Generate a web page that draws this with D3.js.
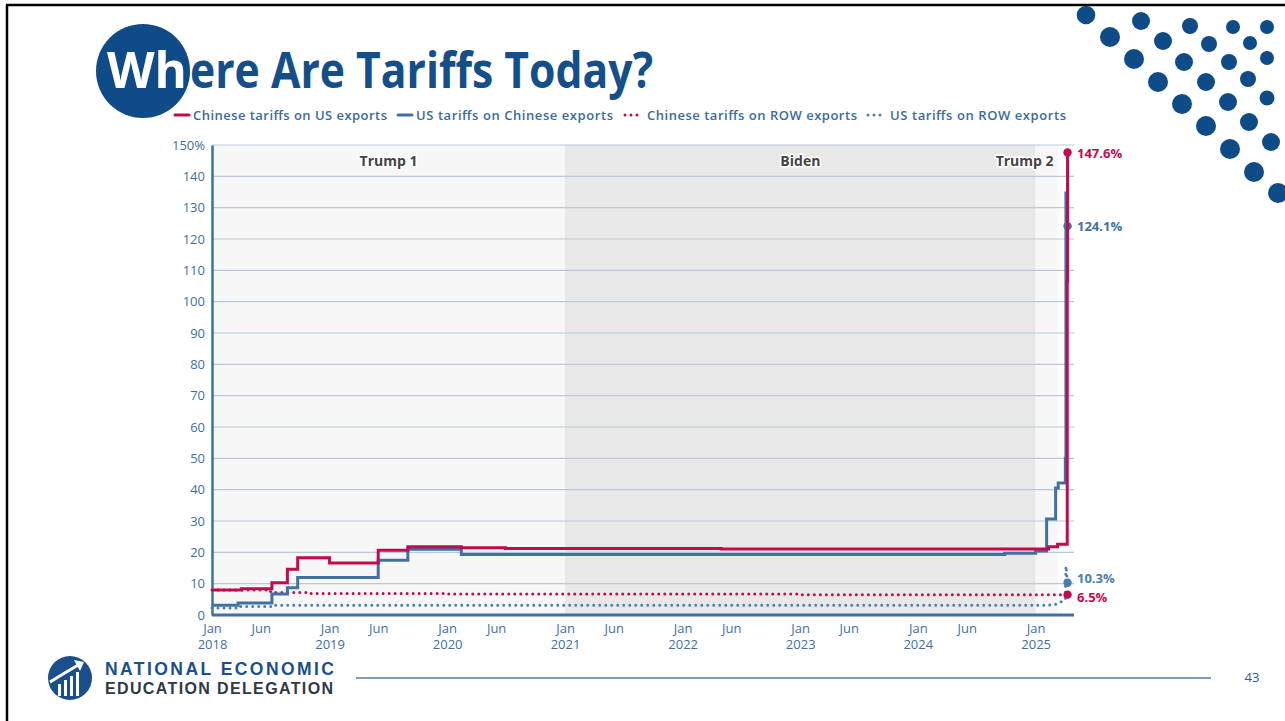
<!DOCTYPE html>
<html>
<head>
<meta charset="utf-8">
<script src="https://cdn.jsdelivr.net/npm/d3@7"></script>
<style>
  body { margin: 0; background: #fff; }
  svg { display: block; font-family: "Open Sans", sans-serif; }
</style>
</head>
<body>
<div id="chart"></div>
<script>
// series data (dates + values in %)
var chinaOnUSDates = ["2018-01-01", "2018-04-02", "2018-07-06", "2018-08-23", "2018-09-24", "2019-01-01", "2019-06-01", "2019-09-01", "2020-02-14", "2020-06-30", "2022-05-01", "2025-02-10", "2025-03-10", "2025-04-09", "2025-04-10"];
var chinaOnUSValues = [8.0, 8.4, 10.3, 14.6, 18.3, 16.6, 20.7, 21.8, 21.5, 21.2, 21.1, 21.8, 22.6, 106.6, 147.6];

var usOnChinaDates = ["2018-01-01", "2018-03-23", "2018-07-06", "2018-08-23", "2018-09-24", "2019-06-01", "2019-09-01", "2020-02-14", "2024-09-27", "2025-01-01", "2025-02-04", "2025-03-04", "2025-03-12", "2025-04-03", "2025-04-05", "2025-04-10"];
var usOnChinaValues = [3.1, 3.8, 6.7, 8.7, 12.0, 17.5, 21.0, 19.3, 19.7, 20.4, 30.6, 40.5, 42.1, 50.0, 134.7, 124.1];

var chinaOnROWDates = ["2018-01-01", "2018-07-01", "2018-07-02", "2018-11-01", "2018-11-02", "2020-01-01", "2020-01-02", "2023-01-01", "2023-01-02", "2025-04-10"];
var chinaOnROWValues = [8.0, 8.0, 7.2, 7.2, 6.9, 6.9, 6.7, 6.7, 6.5, 6.5];

var usOnROWDates = ["2018-01-01", "2018-03-23", "2018-03-24", "2018-07-05", "2018-07-06", "2025-02-01", "2025-03-01", "2025-03-20", "2025-04-03", "2025-04-05", "2025-04-10"];
var usOnROWValues = [2.2, 2.2, 2.7, 2.7, 3.1, 3.1, 3.3, 4.2, 5.0, 15.6, 10.3];

var yTicks = [0, 10, 20, 30, 40, 50, 60, 70, 80, 90, 100, 110, 120, 130, 140, 150];
var xTickDates = ["2018-01-01", "2018-06-01", "2019-01-01", "2019-06-01", "2020-01-01", "2020-06-01", "2021-01-01", "2021-06-01", "2022-01-01", "2022-06-01", "2023-01-01", "2023-06-01", "2024-01-01", "2024-06-01", "2025-01-01"];

var periods = [
  { name: "Trump 1", start: "2018-01-01", end: "2021-01-01", fill: "#f7f7f7", anchor: "middle" },
  { name: "Biden", start: "2021-01-01", end: "2025-01-01", fill: "#e8e8e8", anchor: "middle" },
  { name: "Trump 2", start: "2025-01-01", end: "2025-03-10", fill: "#f7f7f7", anchor: "end" }
];

var RED = "#c40a4f", BLUE = "#3f72a3", BLUE_DOT = "#4a7eb0", AXIS = "#3f70a0";

var parse = d3.timeParse("%Y-%m-%d");
function zipSeries(dates, values) {
  return dates.map(function (d, i) { return { date: parse(d), value: values[i] }; });
}

var width = 1285, height = 721;
var svg = d3.select("#chart").append("svg")
  .attr("width", width)
  .attr("height", height);

// slide frame
svg.append("line").attr("x1", 6).attr("x2", 1285).attr("y1", 5).attr("y2", 5)
  .attr("stroke", "#000").attr("stroke-width", 2.5);
svg.append("line").attr("x1", 7).attr("x2", 7).attr("y1", 5).attr("y2", 721)
  .attr("stroke", "#000").attr("stroke-width", 2.5);

// decorative dots top right
var deco = [[1086,15,9.3],[1141,21,9],[1190,26,8],[1233,27,7],[1267,27,7],[1110,37,10],[1163,41,9],[1209,44,8],[1250,43,7],
  [1134,59,10],[1184,62,9],[1229,62,8],[1267,58,7],[1158,82,10],[1206,82,9],[1248,79,8],[1182,104,10],[1228,102,9],[1267,98,7.5],
  [1206,126,10],[1249,122,9],[1230,149,10],[1271,142,9],[1254,172,10],[1278,193,10]];
svg.selectAll(".deco").data(deco).enter().append("circle")
  .attr("cx", function (d) { return d[0]; }).attr("cy", function (d) { return d[1]; }).attr("r", function (d) { return d[2]; })
  .attr("fill", "#0f4c87");

// title
svg.append("circle").attr("cx", 143).attr("cy", 71).attr("r", 47).attr("fill", "#0f4c87");
svg.append("text").attr("x", 107).attr("y", 88)
  .attr("font-size", 50).attr("font-weight", 700).attr("fill", "#fff")
  .attr("textLength", 80).attr("lengthAdjust", "spacingAndGlyphs")
  .text("Wh");
svg.append("text").attr("x", 190).attr("y", 88)
  .attr("font-size", 50).attr("font-weight", 700).attr("fill", "#154f8a")
  .attr("textLength", 463).attr("lengthAdjust", "spacingAndGlyphs")
  .text("ere Are Tariffs Today?");

// legend
var legend = [
  { label: "Chinese tariffs on US exports", color: RED, dotted: false, x: 175, tx: 193, tw: 194 },
  { label: "US tariffs on Chinese exports", color: BLUE, dotted: false, x: 398, tx: 416, tw: 197 },
  { label: "Chinese tariffs on ROW exports", color: RED, dotted: true, x: 625, tx: 647, tw: 210 },
  { label: "US tariffs on ROW exports", color: BLUE_DOT, dotted: true, x: 868, tx: 890, tw: 176 }
];
var lg = svg.selectAll(".lg").data(legend).enter().append("g");
lg.append("line")
  .attr("x1", function (d) { return d.x; })
  .attr("x2", function (d) { return d.dotted ? d.x + 13 : d.x + 14; })
  .attr("y1", 115).attr("y2", 115)
  .attr("stroke", function (d) { return d.color; })
  .attr("stroke-width", 3)
  .attr("stroke-linecap", "round")
  .attr("stroke-dasharray", function (d) { return d.dotted ? "0 6" : null; });
lg.append("text")
  .attr("x", function (d) { return d.tx; }).attr("y", 119.5)
  .attr("font-size", 13).attr("font-weight", 600).attr("fill", "#3a6b9b")
  .attr("textLength", function (d) { return d.tw; })
  .text(function (d) { return d.label; });

// scales
var x = d3.scaleTime().domain([parse("2018-01-01"), parse("2025-04-30")]).range([212, 1074]);
var y = d3.scaleLinear().domain([0, 150]).range([615, 145]);

// period bands
svg.selectAll(".band").data(periods).enter().append("rect")
  .attr("x", function (d) { return x(parse(d.start)); })
  .attr("width", function (d) { return x(parse(d.end)) - x(parse(d.start)); })
  .attr("y", y(150)).attr("height", y(0) - y(150))
  .attr("fill", function (d) { return d.fill; });

// grid
svg.selectAll(".grid").data(yTicks.slice(1)).enter().append("line")
  .attr("x1", 212).attr("x2", 1074)
  .attr("y1", function (d) { return y(d); }).attr("y2", function (d) { return y(d); })
  .attr("stroke", "#b7c8da").attr("stroke-width", 1.2);

// period labels
svg.selectAll(".plabel").data(periods).enter().append("text")
  .attr("x", function (d) {
    return d.anchor === "end" ? x(parse(d.end)) - 4 : (x(parse(d.start)) + x(parse(d.end))) / 2;
  })
  .attr("y", 166)
  .attr("text-anchor", function (d) { return d.anchor; })
  .attr("font-size", 14).attr("font-weight", 700)
  .attr("fill", "#444").attr("stroke", "#fff").attr("stroke-width", 3)
  .attr("paint-order", "stroke")
  .text(function (d) { return d.name; });

// y axis
var yAxis = svg.append("g").attr("transform", "translate(212,0)")
  .call(d3.axisLeft(y).tickValues(yTicks).tickSize(0).tickPadding(7)
    .tickFormat(function (d) { return d === 150 ? "150%" : d; }));
yAxis.select(".domain").attr("stroke", AXIS).attr("stroke-width", 2.5);
yAxis.selectAll("text").attr("font-size", 13).attr("fill", AXIS).attr("font-family", "Open Sans");

// x axis
var xAxis = svg.append("g").attr("transform", "translate(0,615)")
  .call(d3.axisBottom(x).tickValues(xTickDates.map(parse)).tickSize(0).tickPadding(9)
    .tickFormat(d3.timeFormat("%b")));
xAxis.select(".domain").attr("stroke", AXIS).attr("stroke-width", 3).attr("d", "M212,0H1074");
xAxis.selectAll("text").attr("font-size", 13).attr("fill", AXIS).attr("font-family", "Open Sans");
xAxis.selectAll(".tick").filter(function (d) { return d.getMonth() === 0; })
  .append("text").attr("y", 25).attr("dy", "0.71em")
  .attr("font-size", 13).attr("fill", AXIS).attr("font-family", "Open Sans")
  .attr("text-anchor", "middle")
  .text(d3.timeFormat("%Y"));

// lines
var stepLine = d3.line().curve(d3.curveStepAfter)
  .x(function (d) { return x(d.date); }).y(function (d) { return y(d.value); });
var plainLine = d3.line()
  .x(function (d) { return x(d.date); }).y(function (d) { return y(d.value); });

var series = [
  { data: zipSeries(usOnROWDates, usOnROWValues), color: BLUE_DOT, dotted: true, gen: plainLine, label: "10.3%", ly: 578 },
  { data: zipSeries(chinaOnROWDates, chinaOnROWValues), color: RED, dotted: true, gen: plainLine, label: "6.5%", ly: 597 },
  { data: zipSeries(usOnChinaDates, usOnChinaValues), color: BLUE, dotted: false, gen: stepLine, label: "124.1%", ly: 226 },
  { data: zipSeries(chinaOnUSDates, chinaOnUSValues), color: RED, dotted: false, gen: stepLine, label: "147.6%", ly: 153 }
];

series.forEach(function (s) {
  svg.append("path").datum(s.data)
    .attr("fill", "none")
    .attr("stroke", s.color)
    .attr("stroke-width", 3)
    .attr("stroke-linecap", s.dotted ? "round" : "butt")
    .attr("stroke-dasharray", s.dotted ? "0 6" : null)
    .attr("d", s.gen);
  var last = s.data[s.data.length - 1];
  svg.append("circle").attr("cx", x(last.date)).attr("cy", y(last.value)).attr("r", 4.2)
    .attr("fill", s.color);
  svg.append("text").attr("x", 1077).attr("y", s.ly).attr("dy", "0.35em")
    .attr("font-size", 13).attr("font-weight", 700).attr("fill", s.color)
    .text(s.label);
});

// footer
var logo = svg.append("g").attr("transform", "translate(70,678)");
logo.append("circle").attr("r", 22).attr("fill", "#1a4f8b");
[[-12, 6, 12], [-6, 2, 16], [0, -2, 20], [6, -6, 24]].forEach(function (b) {
  logo.append("rect").attr("x", b[0]).attr("y", b[1]).attr("width", 3).attr("height", b[2]).attr("fill", "#fff");
});
logo.append("path").attr("d", "M-20,4 Q-4,-6 10,-14").attr("fill", "none").attr("stroke", "#fff").attr("stroke-width", 3);
logo.append("path").attr("d", "M4,-18 L14,-16 L10,-7 Z").attr("fill", "#fff");

svg.append("text").attr("x", 105).attr("y", 675)
  .attr("font-size", 17.5).attr("font-weight", 700).attr("fill", "#1a4f8b")
  .attr("font-family", "Liberation Sans")
  .attr("textLength", 229)
  .text("NATIONAL ECONOMIC");
svg.append("text").attr("x", 105).attr("y", 694)
  .attr("font-size", 16).attr("font-weight", 700).attr("fill", "#2e3a44")
  .attr("font-family", "Liberation Sans")
  .attr("textLength", 228)
  .text("EDUCATION DELEGATION");
svg.append("line").attr("x1", 356).attr("x2", 1211).attr("y1", 678).attr("y2", 678)
  .attr("stroke", "#7d9dc0").attr("stroke-width", 2);
svg.append("text").attr("x", 1252).attr("y", 682).attr("text-anchor", "middle")
  .attr("font-size", 13).attr("fill", "#2a5f9a").text("43");
</script>
</body>
</html>
